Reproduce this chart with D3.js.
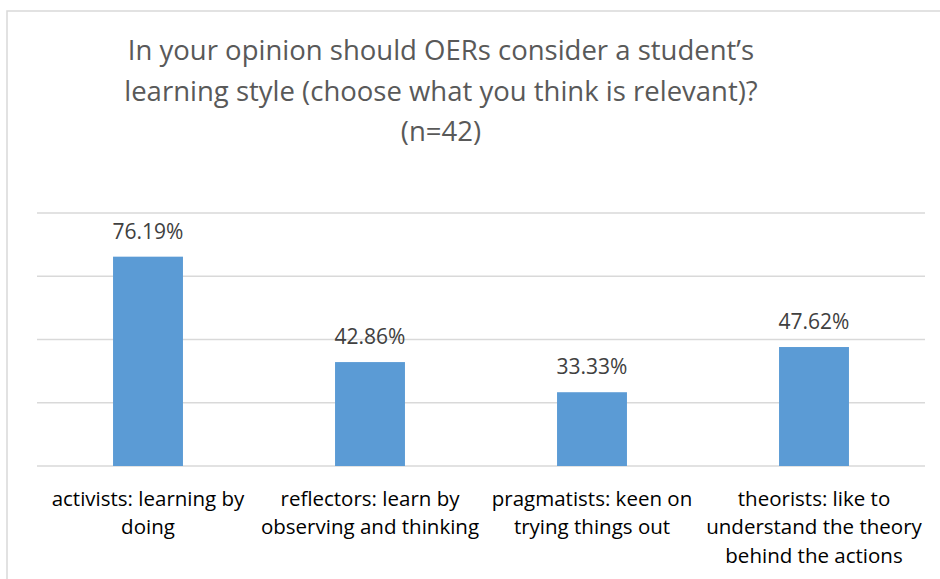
<!DOCTYPE html>
<html>
<head>
<meta charset="utf-8">
<script src="https://cdn.jsdelivr.net/npm/d3@7"></script>
<style>
  body { margin: 0; background: #fff; }
  text { font-family: "Open Sans", sans-serif; }
</style>
</head>
<body>
<div id="chart"></div>
<script>
// chart data
const categories = ["activists", "reflectors", "pragmatists", "theorists"];
const categoryLabels = [
  ["activists: learning by", "doing"],
  ["reflectors: learn by", "observing and thinking"],
  ["pragmatists: keen on", "trying things out"],
  ["theorists: like to", "understand the theory", "behind the actions"]
];
const values = [76.19, 42.86, 33.33, 47.62];
const gridTicks = [10, 30, 50, 70, 90];
const titleLines = [
  "In your opinion should OERs consider a student\u2019s",
  "learning style (choose what you think is relevant)?",
  "(n=42)"
];

const width = 940;
const height = 579;
const margin = { top: 213, right: 15, bottom: 113, left: 37 };

const svg = d3.select("#chart")
  .append("svg")
  .attr("width", width)
  .attr("height", height);

// chart area border (cut off by the page at right and bottom)
svg.append("rect")
  .attr("x", 7).attr("y", 11)
  .attr("width", 1200).attr("height", 1200)
  .attr("fill", "none")
  .attr("stroke", "#d9d9d9")
  .attr("stroke-width", 1.5);

const x = d3.scaleBand()
  .domain(categories)
  .range([margin.left, width - margin.right])
  .paddingInner(0.685)
  .paddingOuter(0.3425);

const y = d3.scaleLinear()
  .domain([10, 90])
  .range([height - margin.bottom, margin.top]);

// gridlines
svg.append("g")
  .selectAll("line")
  .data(gridTicks)
  .enter()
  .append("line")
  .attr("x1", margin.left)
  .attr("x2", width - margin.right)
  .attr("y1", d => y(d))
  .attr("y2", d => y(d))
  .attr("stroke", "#d9d9d9")
  .attr("stroke-width", 1.5);

// bars
svg.append("g")
  .selectAll("rect")
  .data(values)
  .enter()
  .append("rect")
  .attr("x", (d, i) => x(categories[i]))
  .attr("y", d => y(d))
  .attr("width", x.bandwidth())
  .attr("height", d => y(10) - y(d))
  .attr("fill", "#5b9bd5");

// data labels
svg.append("g")
  .selectAll("text")
  .data(values)
  .enter()
  .append("text")
  .attr("x", (d, i) => x(categories[i]) + x.bandwidth() / 2)
  .attr("y", d => y(d) - 18)
  .attr("text-anchor", "middle")
  .style("font-size", "21px")
  .style("fill", "#404040")
  .text(d => d.toFixed(2) + "%");

// category labels
const cat = svg.append("g")
  .selectAll("text")
  .data(categoryLabels)
  .enter()
  .append("text")
  .attr("text-anchor", "middle")
  .style("font-size", "20.5px")
  .style("fill", "#000");

cat.each(function (lines, i) {
  const cx = x(categories[i]) + x.bandwidth() / 2;
  d3.select(this).selectAll("tspan")
    .data(lines)
    .enter()
    .append("tspan")
    .attr("x", cx)
    .attr("y", (l, j) => 506 + j * 28.3)
    .text(l => l);
});

// title
svg.append("g")
  .selectAll("text")
  .data(titleLines)
  .enter()
  .append("text")
  .attr("x", 441)
  .attr("y", (d, i) => 60 + i * 40.5)
  .attr("text-anchor", "middle")
  .style("font-size", "27.5px")
  .style("fill", "#595959")
  .text(d => d);
</script>
</body>
</html>
